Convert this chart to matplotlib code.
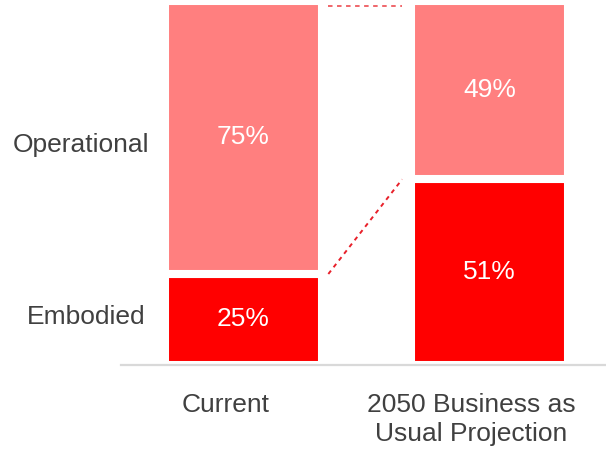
import matplotlib.pyplot as plt
from matplotlib.transforms import ScaledTranslation

# share of whole-life carbon, in percent
categories = ['Current', '2050 Business as\nUsual Projection']
embodied = [25, 51]
operational = [75, 49]
series_names = ['Operational', 'Embodied']

EMB_COLOR = '#ff0000'
OPS_COLOR = '#ff7f7f'
TEXT_COLOR = '#404040'

plt.rcParams['font.family'] = ['Liberation Sans', 'DejaVu Sans']

fig = plt.figure(figsize=(6.06, 4.54), dpi=100)
ax = fig.add_axes([121 / 606, 89 / 454, 485 / 606, 364 / 454])

x = list(range(len(categories)))
width = 0.64
gap_lw = 5.8  # white outline gives the gap between stacked segments

ax.bar(x, embodied, width, color=EMB_COLOR, edgecolor='white', linewidth=gap_lw)
ax.bar(x, operational, width, bottom=embodied, color=OPS_COLOR,
       edgecolor='white', linewidth=gap_lw)

# value labels in the middle of each segment
for i in x:
    ax.text(i, embodied[i] / 2, f'{embodied[i]}%', ha='center', va='center',
            color='white', fontsize=19)
    ax.text(i, embodied[i] + operational[i] / 2, f'{operational[i]}%',
            ha='center', va='center', color='white', fontsize=19)

# dashed connectors between the bars
x0 = x[0] + width / 2 + 0.025
x1 = x[1] - width / 2 - 0.035
ax.plot([x0, x1], [embodied[0], embodied[1]], ls=(0, (2.2, 2.2)), lw=1.4,
        color='#e8202a', clip_on=False)
top0 = embodied[0] + operational[0]
top1 = embodied[1] + operational[1]
ax.plot([x0, x1], [top0 - 1.3, top1 - 1.3], ls=(0, (2.5, 2.5)), lw=1.3,
        color='#ee5a5f', clip_on=False)

ax.set_xlim(-0.498, 1.474)
ax.set_ylim(0, 100)
ax.set_xticks(x)
ax.set_xticklabels(categories, fontsize=19, color=TEXT_COLOR, linespacing=1.3)
ax.tick_params(axis='x', length=0, pad=20)
ax.set_yticks([])

# category labels sit a little left of the bar centres
shift = ScaledTranslation(-18 / 100, 0, fig.dpi_scale_trans)
for lbl in ax.get_xticklabels():
    lbl.set_transform(lbl.get_transform() + shift)

for side in ['left', 'top', 'right']:
    ax.spines[side].set_visible(False)
ax.spines['bottom'].set_color('#d9d9d9')
ax.spines['bottom'].set_linewidth(1.6)
ax.spines['bottom'].set_zorder(5)

# series names on the left, level with the first bar's segments
fig.text(81 / 606, 1 - 145 / 454, series_names[0], ha='center', va='center',
         fontsize=19, color=TEXT_COLOR)
fig.text(86 / 606, 1 - 317 / 454, series_names[1], ha='center', va='center',
         fontsize=19, color=TEXT_COLOR)

fig.savefig('out.png', dpi=100)
